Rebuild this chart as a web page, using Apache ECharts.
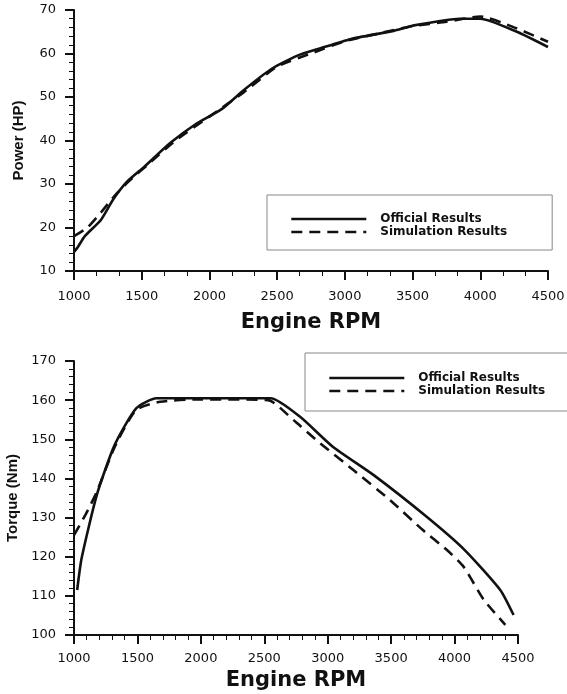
<!DOCTYPE html>
<html>
<head>
<meta charset="utf-8">
<script src="https://cdn.jsdelivr.net/npm/echarts@6/dist/echarts.min.js"></script>
<style>
html,body{margin:0;padding:0;background:#fff;}
#c{width:567px;height:694px;}
</style>
</head>
<body>
<div id="c"></div>
<script>
// ---- Data ----
const seriesNames = ['Official Results', 'Simulation Results'];
const xTicks = [1000, 1500, 2000, 2500, 3000, 3500, 4000, 4500];
const powerTicks = [10, 20, 30, 40, 50, 60, 70];
const torqueTicks = [100, 110, 120, 130, 140, 150, 160, 170];

// Power (HP) vs RPM
const powerOfficial = [
  [1000,14.4],[1030,15.6],[1080,18.0],[1200,21.8],[1290,26.5],[1390,30.5],
  [1520,34.0],[1710,39.4],[1900,43.8],[2090,47.2],[2250,51.5],[2460,56.5],
  [2650,59.5],[2820,61.2],[3040,63.3],[3360,65.2],[3500,66.4],[3850,68.0],
  [4000,68.0],[4270,65.0],[4500,61.5]
];
const powerSimulation = [
  [1000,18.0],[1100,20.0],[1200,23.5],[1300,27.3],[1400,30.5],[1550,34.6],
  [1750,40.0],[2000,45.5],[2250,51.0],[2500,57.0],[2750,60.0],[3000,62.8],
  [3250,64.6],[3500,66.3],[3750,67.3],[4000,68.5],[4250,66.0],[4500,62.7]
];

// Torque (Nm) vs RPM
const torqueOfficial = [
  [1025,111.5],[1060,119.6],[1180,135.8],[1320,148.5],[1490,157.9],[1650,160.5],
  [2550,160.5],[2780,155.8],[3040,148.1],[3360,140.9],[3780,130.2],[4080,121.7],
  [4360,111.5],[4465,105.1]
];
const torqueSimulation = [
  [1000,125.5],[1090,130.7],[1180,136.6],[1320,148.0],[1490,157.5],[1680,159.6],
  [2000,160.2],[2530,160.0],[2730,154.9],[2940,149.0],[3200,142.2],[3490,134.5],
  [3750,126.8],[3940,121.7],[4070,117.5],[4230,109.0],[4400,102.6]
];

// ---- Chart ----
const FONT = 'DejaVu Sans';
const black = '#111';

function xAxisCfg(gridIndex, minorSplit, labelMargin, nameGap) {
  return {
    gridIndex: gridIndex, type: 'value',
    min: xTicks[0], max: xTicks[xTicks.length - 1], interval: xTicks[1] - xTicks[0],
    name: 'Engine RPM', nameLocation: 'middle', nameGap: nameGap,
    nameTextStyle: { fontFamily: FONT, fontWeight: 'bold', fontSize: 21, color: black },
    axisLine: { show: true, onZero: false, lineStyle: { color: black, width: 2 } },
    axisTick: { show: true, length: 9, lineStyle: { color: black, width: 2 } },
    minorTick: { show: true, splitNumber: minorSplit, length: 5, lineStyle: { color: black, width: 1 } },
    splitLine: { show: false },
    axisLabel: { margin: labelMargin, fontFamily: FONT, fontSize: 13, color: black,
                 formatter: v => String(v) }
  };
}
function yAxisCfg(gridIndex, ticks, name, nameGap) {
  return {
    gridIndex: gridIndex, type: 'value',
    min: ticks[0], max: ticks[ticks.length - 1], interval: ticks[1] - ticks[0],
    name: name, nameLocation: 'middle', nameGap: nameGap,
    nameTextStyle: { fontFamily: 'Liberation Sans', fontWeight: 'bold', fontSize: 15, color: black },
    axisLine: { show: true, onZero: false, lineStyle: { color: black, width: 2 } },
    axisTick: { show: true, length: 9, lineStyle: { color: black, width: 2 } },
    minorTick: { show: true, splitNumber: 5, length: 5, lineStyle: { color: black, width: 1 } },
    splitLine: { show: false },
    axisLabel: { margin: 18, fontFamily: FONT, fontSize: 13, color: black,
                 formatter: v => String(v) }
  };
}
function lineSeries(name, data, idx, dashed) {
  return {
    name: name, type: 'line', data: data,
    xAxisIndex: idx, yAxisIndex: idx,
    symbol: 'none', smooth: 0.2,
    lineStyle: { color: black, width: 2.6, type: dashed ? [11, 7] : 'solid' },
    itemStyle: { color: black },
    animation: false
  };
}
function legendCfg(left, top, padding, itemWidth) {
  return {
    data: seriesNames.map(n => ({ name: n })),
    orient: 'vertical', left: left, top: top,
    itemWidth: itemWidth, itemHeight: 10, itemGap: 1,
    padding: padding,
    borderColor: '#888', borderWidth: 1,
    backgroundColor: '#fff',
    itemStyle: { opacity: 0 },
    lineStyle: { width: 2.6 },
    textStyle: { fontFamily: FONT, fontWeight: 'bold', fontSize: 12, lineHeight: 12,
                 color: black, padding: [0, 0, 0, 9] },
    selectedMode: false
  };
}

const chart = echarts.init(document.getElementById('c'), null, { renderer: 'canvas' });
chart.setOption({
  animation: false,
  backgroundColor: '#fff',
  grid: [
    { left: 74, top: 10, width: 474, height: 261, containLabel: false, outerBoundsMode: 'none' },
    { left: 74, top: 361, width: 444, height: 274, containLabel: false, outerBoundsMode: 'none' }
  ],
  xAxis: [ xAxisCfg(0, 3, 19, 41), xAxisCfg(1, 5, 17, 35) ],
  yAxis: [ yAxisCfg(0, powerTicks, 'Power (HP)', 48), yAxisCfg(1, torqueTicks, 'Torque (Nm)', 46) ],
  legend: [ legendCfg(267, 195, [18, 45, 12, 23], 75), legendCfg(305, 353, [19, 45, 14, 23], 75) ],
  series: [
    lineSeries(seriesNames[0], powerOfficial, 0, false),
    lineSeries(seriesNames[1], powerSimulation, 0, true),
    lineSeries(seriesNames[0], torqueOfficial, 1, false),
    lineSeries(seriesNames[1], torqueSimulation, 1, true)
  ]
});
</script>
</body>
</html>
